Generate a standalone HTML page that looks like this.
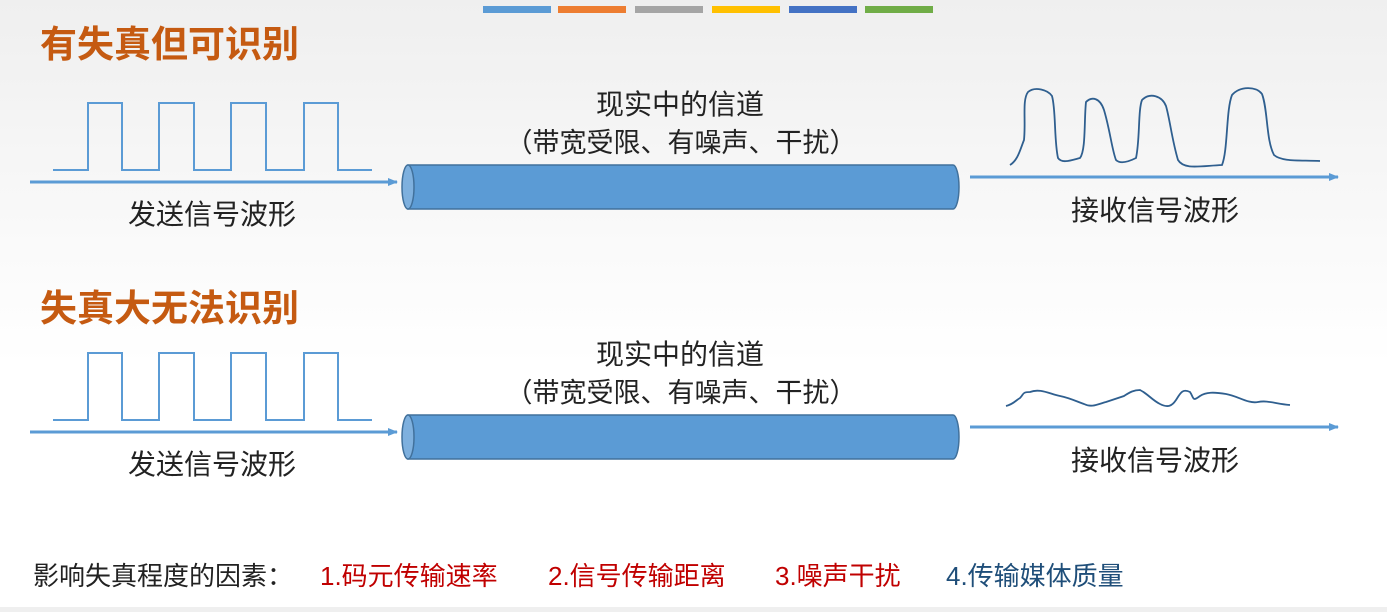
<!DOCTYPE html>
<html><head><meta charset="utf-8">
<style>
html,body{margin:0;padding:0;}
body{width:1387px;height:607px;overflow:hidden;background:linear-gradient(#efefef,#ffffff 60%);font-family:"Liberation Sans","Noto Sans CJK SC",sans-serif;}
svg text{font-family:"Liberation Sans","Noto Sans CJK SC",sans-serif;}
</style></head><body>
<svg width="1387" height="607" viewBox="0 0 1387 607">
<defs>
<marker id="ah" markerWidth="10" markerHeight="8" refX="9" refY="4" orient="auto" markerUnits="userSpaceOnUse"><path d="M0,0 L10,4 L0,8 Z" fill="#5b9bd5"/></marker>
</defs>
<g>
<rect x="483" y="6" width="68" height="7" fill="#5b9bd5"/>
<rect x="558" y="6" width="68" height="7" fill="#ed7d31"/>
<rect x="635" y="6" width="68" height="7" fill="#a5a5a5"/>
<rect x="712" y="6" width="68" height="7" fill="#ffc000"/>
<rect x="789" y="6" width="68" height="7" fill="#4472c4"/>
<rect x="865" y="6" width="68" height="7" fill="#70ad47"/>
</g>

<g>
<text x="40" y="57" font-size="37" font-weight="bold" fill="#c55a11">有失真但可识别</text>
<path d="M53,170 H88 V103 H122 V170 H159 V103 H194 V170 H231 V103 H266 V170 H304 V103 H338 V170 H372" fill="none" stroke="#5b9bd5" stroke-width="2"/>
<line x1="30" y1="182" x2="397" y2="182" stroke="#5b9bd5" stroke-width="3" marker-end="url(#ah)"/>
<text x="212" y="224" font-size="28" text-anchor="middle" fill="#222">发送信号波形</text>
<g>
<path d="M408,165 H953 A6,22 0 0 1 953,209 H408 Z" fill="#5b9bd5" stroke="#41719c" stroke-width="1.5"/>
<ellipse cx="408" cy="187" rx="6" ry="22" fill="#7eb0de" stroke="#41719c" stroke-width="1.5"/>
</g>
<text x="680" y="114" font-size="28" text-anchor="middle" fill="#222">现实中的信道</text>
<text x="681" y="152" font-size="27" text-anchor="middle" fill="#222">（带宽受限、有噪声、干扰）</text>
<line x1="970" y1="177" x2="1338" y2="177" stroke="#5b9bd5" stroke-width="3" marker-end="url(#ah)"/>
<path d="M1010,165 C1018,160 1020,150 1024,140 C1026,120 1022,100 1028,92 C1035,86 1048,90 1052,96 C1056,110 1054,140 1058,158 C1062,164 1072,160 1080,158 C1086,150 1084,120 1086,102 C1092,96 1100,98 1104,110 C1110,130 1112,150 1116,160 C1120,164 1128,162 1136,158 C1140,140 1138,110 1142,100 C1150,92 1162,96 1166,106 C1170,120 1172,140 1178,160 C1184,170 1200,166 1222,165 C1228,150 1226,110 1232,95 C1240,86 1256,86 1262,94 C1268,110 1266,140 1274,155 C1282,162 1300,160 1320,161" fill="none" stroke="#2f5f8f" stroke-width="1.8"/>
<text x="1155" y="220" font-size="28" text-anchor="middle" fill="#222">接收信号波形</text>
</g>

<g>
<text x="40" y="321" font-size="37" font-weight="bold" fill="#c55a11">失真大无法识别</text>
<path d="M53,420 H88 V353 H122 V420 H159 V353 H194 V420 H231 V353 H266 V420 H304 V353 H338 V420 H372" fill="none" stroke="#5b9bd5" stroke-width="2"/>
<line x1="30" y1="432" x2="397" y2="432" stroke="#5b9bd5" stroke-width="3" marker-end="url(#ah)"/>
<text x="212" y="474" font-size="28" text-anchor="middle" fill="#222">发送信号波形</text>
<g>
<path d="M408,415 H953 A6,22 0 0 1 953,459 H408 Z" fill="#5b9bd5" stroke="#41719c" stroke-width="1.5"/>
<ellipse cx="408" cy="437" rx="6" ry="22" fill="#7eb0de" stroke="#41719c" stroke-width="1.5"/>
</g>
<text x="680" y="364" font-size="28" text-anchor="middle" fill="#222">现实中的信道</text>
<text x="681" y="402" font-size="27" text-anchor="middle" fill="#222">（带宽受限、有噪声、干扰）</text>
<line x1="970" y1="427" x2="1338" y2="427" stroke="#5b9bd5" stroke-width="3" marker-end="url(#ah)"/>
<path d="M1006,406 C1014,404 1016,400 1020,398 C1024,394 1022,392 1030,392 C1040,388 1050,394 1060,396 C1070,398 1078,402 1084,404 C1092,408 1098,404 1106,402 C1112,400 1118,398 1124,396 C1130,392 1134,390 1140,390 C1148,394 1152,400 1160,404 C1168,408 1172,406 1176,400 C1180,394 1182,388 1190,392 C1194,398 1192,402 1200,396 C1206,392 1214,392 1226,394 C1238,396 1248,404 1258,402 C1268,400 1276,404 1290,405" fill="none" stroke="#2f5f8f" stroke-width="1.8"/>
<text x="1155" y="470" font-size="28" text-anchor="middle" fill="#222">接收信号波形</text>
</g>

<g>
<text x="33" y="585" font-size="26" fill="#222">影响失真程度的因素：</text>
<text x="320" y="585" font-size="26" fill="#c00000">1.码元传输速率</text>
<text x="548" y="585" font-size="26" fill="#c00000">2.信号传输距离</text>
<text x="775" y="585" font-size="26" fill="#c00000">3.噪声干扰</text>
<text x="946" y="585" font-size="26" fill="#1f4e79">4.传输媒体质量</text>
</g>
</svg>
</body></html>
